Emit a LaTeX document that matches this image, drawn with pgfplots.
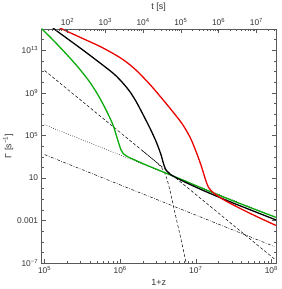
\documentclass[border=0pt]{standalone}
\usepackage{pgfplots}
\pgfplotsset{compat=1.18}
\usepackage{fontspec}
\setmainfont{Liberation Sans}
\definecolor{mred}{RGB}{235,0,0}
\definecolor{mgreen}{RGB}{10,170,10}
\definecolor{framec}{gray}{0.35}
\definecolor{labc}{gray}{0.2}
\begin{document}
\begin{tikzpicture}
\pgfplotsset{
  every axis/.append style={
    scale only axis, width=235bp, height=235bp,
    tick align=inside,
    major tick length=4bp, minor tick length=2bp,
    tick style={framec, line width=0.4pt},
    ticklabel style={font=\fontsize{8.4bp}{10bp}\selectfont, color=labc},
    label style={font=\fontsize{9bp}{11bp}\selectfont, color=labc},
  }
}
\begin{axis}[
  xmode=log, ymode=log,
  xmin=91201, xmax=1.148e8,
  ymin=1e-7, ymax=1e15,
  axis line style={framec, line width=0.5pt},
  xtick pos=bottom, ytick pos=both, yticklabel pos=left,
  xtick={1e5,1e6,1e7,1e8},
  xticklabels={10\textsuperscript{5},10\textsuperscript{6},10\textsuperscript{7},10\textsuperscript{8}},
  minor xtick={2e5,3e5,4e5,5e5,6e5,7e5,8e5,9e5,2e6,3e6,4e6,5e6,6e6,7e6,8e6,9e6,2e7,3e7,4e7,5e7,6e7,7e7,8e7,9e7},
  ytick={1e-7,1e-3,10,1e5,1e9,1e13},
  yticklabels={10\textsuperscript{−7},0.001,10,10\textsuperscript{5},10\textsuperscript{9},10\textsuperscript{13}},
  minor ytick={1e-6,1e-5,1e-4,1e-2,1e-1,1,1e2,1e3,1e4,1e6,1e7,1e8,1e10,1e11,1e12,1e14},
  xlabel={1+z},
  ylabel={Γ [s\textsuperscript{−1}]},
  xlabel style={yshift=1bp},
  ylabel style={yshift=-3bp},
  clip=true,
]
% straight dashed
\addplot[black, line width=0.5pt, dash pattern=on 3bp off 2bp] coordinates {
 (1e5,1.259e11) (1.096e8,2.570e-7)};
% steep dashed
\addplot[black, line width=0.5pt, dash pattern=on 3bp off 2bp, smooth, tension=0.5] coordinates {
 (1.995e6,3.388e3) (2.818e6,457.1) (3.388e6,135) (3.802e6,39.81) (4.169e6,7.943)
 (4.677e6,0.3162) (5.129e6,1.585e-2) (5.754e6,4.467e-4) (6.310e6,2.512e-5) (7.586e6,6.310e-8)};
% dotted
\addplot[black, line width=0.5pt, dash pattern=on 0.7bp off 1.6bp] coordinates {
 (1e5,1e6) (1.096e8,2.344e-3)};
% dash-dot
\addplot[black, line width=0.5pt, dash pattern=on 3bp off 1.5bp on 0.7bp off 1.5bp] coordinates {
 (1e5,1.585e3) (1.096e8,3.715e-6)};
% green
\addplot[mgreen, line width=1.3pt, line join=round, smooth, tension=0.5] coordinates {
 (8.913e4,1.259e15) (1.259e5,1.122e14) (1.995e5,3.548e12) (2.818e5,2.239e11) (3.890e5,1.230e10)
 (5.012e5,7.586e8) (6.310e5,3.802e7) (7.943e5,1.202e6) (9.120e5,5.754e4) (1.023e6,4.571e3)
 (1.096e6,1.995e3) (1.259e6,1e3) (1.514e6,549.5) (1.995e6,229.1) (2.630e6,100)
 (6.310e6,7.943) (1.585e7,0.5012) (3.981e7,3.631e-2) (1.148e8,2.042e-3)};
% black
\addplot[black, line width=1.3pt, line join=round, smooth, tension=0.5] coordinates {
 (1.288e5,1.259e15) (1.479e5,5.888e14) (3.388e5,7.943e12) (7.586e5,1e11) (1e6,1.585e10)
 (1.318e6,1.585e9) (1.622e6,1.585e8) (1.995e6,1e7) (2.512e6,3.981e5) (3.020e6,2.239e4)
 (3.467e6,1.585e3) (3.802e6,158.5) (4.074e6,52.48) (4.467e6,26.30) (5.012e6,15.14)
 (5.888e6,8.511) (6.918e6,4.786) (1.259e7,0.6761) (3.162e7,4.365e-2) (1.148e8,1.175e-3)};
% red
\addplot[mred, line width=1.3pt, line join=round, smooth, tension=0.5] coordinates {
 (1.585e5,1.259e15) (1.995e5,5.888e14) (3.162e5,1.318e14) (5.623e5,1.995e13) (1e6,1.995e12)
 (1.514e6,2.138e11) (2.399e6,7.943e9) (3.311e6,5.623e8) (4.571e6,3.548e7) (6.607e6,1.259e6)
 (8.318e6,7.943e4) (9.333e6,1.259e4) (1.047e7,1.585e3) (1.175e7,158.5) (1.288e7,19.95)
 (1.380e7,4.169) (1.479e7,1.318) (1.585e7,0.7079) (1.738e7,0.3802) (2.089e7,0.1514)
 (2.570e7,6.310e-2) (3.548e7,1.905e-2) (4.677e7,7.079e-3) (7.079e7,1.738e-3) (1.148e8,3.548e-4)};
\end{axis}
\begin{axis}[
  xmode=log,
  xmin=20.6, xmax=3.266e7,
  ymin=0, ymax=1,
  axis line style={draw=none},
  ytick=\empty,
  xtick pos=top, xticklabel pos=top,
  xtick={1e2,1e3,1e4,1e5,1e6,1e7},
  xticklabels={10\textsuperscript{2},10\textsuperscript{3},10\textsuperscript{4},10\textsuperscript{5},10\textsuperscript{6},10\textsuperscript{7}},
  minor xtick={30,40,50,60,70,80,90,200,300,400,500,600,700,800,900,2e3,3e3,4e3,5e3,6e3,7e3,8e3,9e3,2e4,3e4,4e4,5e4,6e4,7e4,8e4,9e4,2e5,3e5,4e5,5e5,6e5,7e5,8e5,9e5,2e6,3e6,4e6,5e6,6e6,7e6,8e6,9e6,2e7,3e7},
  xlabel={t [s]},
]
\end{axis}
\end{tikzpicture}
\end{document}
